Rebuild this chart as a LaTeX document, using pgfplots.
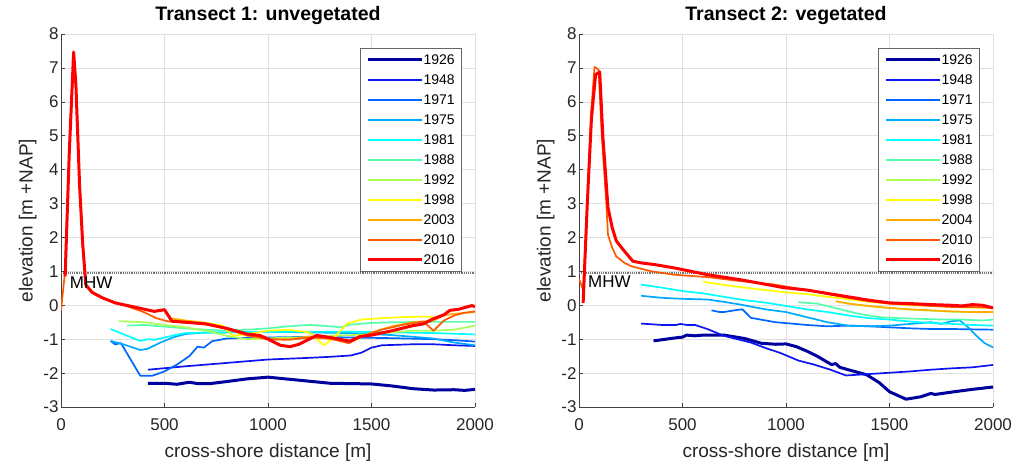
\documentclass[border=0pt]{standalone}
\usepackage{fontspec}
\setmainfont{Liberation Sans}
\usepackage{pgfplots}
\pgfplotsset{compat=1.18}

% jet-like colours, one per survey year
\definecolor{c1926}{rgb}{0,0,0.62}
\definecolor{c1948}{rgb}{0.05,0.08,0.95}
\definecolor{c1971}{rgb}{0,0.4,1}
\definecolor{c1975}{rgb}{0,0.67,1}
\definecolor{c1981}{rgb}{0,1,1}
\definecolor{c1988}{rgb}{0.33,1,0.67}
\definecolor{c1992}{rgb}{0.67,1,0.33}
\definecolor{c1998}{rgb}{1,1,0}
\definecolor{c2003}{rgb}{1,0.67,0}
\definecolor{c2010}{rgb}{1,0.35,0}
\definecolor{c2016}{rgb}{1,0,0}

\tikzset{
  lthin/.style={line width=1.7pt},
  lthick/.style={line width=3pt},
}

\pgfplotsset{
  transect/.style={
    width=414pt, height=373pt, scale only axis,
    xmin=0, xmax=2000, ymin=-3, ymax=8,
    xtick={0,500,...,2000}, ytick={-3,-2,...,8},
    grid=major, major grid style={line width=0.5pt, draw=black!12},
    axis x line*=bottom, axis y line*=left,
    axis line style={-, draw=black!75, line width=0.6pt},
    tick align=inside, major tick length=4pt, tick style={draw=black!75, line width=0.6pt},
    ticklabel style={font=\fontsize{17}{17}\selectfont, text=black!85},
    xticklabel style={yshift=-8pt},
    yticklabel style={xshift=1pt},
    /pgf/number format/assume math mode=true,
    /pgf/number format/1000 sep={},
    xlabel style={font=\fontsize{19}{19}\selectfont, text=black!85, yshift=-6pt},
    ylabel style={font=\fontsize{19}{19}\selectfont, text=black!85},
    title style={font=\bfseries\fontsize{19.5}{19.5}\selectfont, yshift=0pt},
    xlabel={cross-shore distance [m]},
    ylabel={elevation [m +NAP]},
    legend style={at={(1,1)}, anchor=north east, xshift=-14pt, yshift=-14pt,
      draw=black!60, line width=0.5pt, fill=white,
      font=\fontsize{14}{14}\selectfont, inner xsep=6pt, inner ysep=5pt,
      row sep=7pt,
      nodes={inner xsep=0pt, inner ysep=0pt, text height=11pt, text depth=2pt},
      /tikz/every even column/.append style={column sep=0pt}},
    legend cell align=left,
    legend image code/.code={\draw[#1] (0pt,0pt) -- (54pt,0pt);},
  },
  every axis plot/.append style={line join=round},
}

\begin{document}
\begin{tikzpicture}
%--------------------------------------------------- transect 1
\begin{axis}[transect, title={Transect 1: unvegetated}]
\addplot[draw=black!55, line width=1.2pt, densely dotted, forget plot] coordinates {(0,0.95) (2000,0.95)};
\addplot[c1926, lthick] coordinates {(420,-2.30) (500,-2.30) (560,-2.33) (620,-2.27) (660,-2.31) (720,-2.31) (800,-2.25) (900,-2.17) (1000,-2.12) (1100,-2.18) (1200,-2.24) (1300,-2.30) (1400,-2.31) (1500,-2.32) (1600,-2.38) (1700,-2.46) (1800,-2.50) (1900,-2.49) (1950,-2.51) (2000,-2.48)};
\addplot[c1948, lthin] coordinates {(420,-1.90) (600,-1.80) (800,-1.70) (1000,-1.60) (1200,-1.55) (1300,-1.52) (1400,-1.48) (1450,-1.40) (1500,-1.25) (1550,-1.18) (1700,-1.15) (1800,-1.15) (1900,-1.18) (2000,-1.20)};
\addplot[c1971, lthin] coordinates {(240,-1.05) (260,-1.15) (290,-1.12) (383,-2.08) (440,-2.08) (500,-1.95) (560,-1.75) (620,-1.50) (660,-1.22) (690,-1.25) (730,-1.06) (800,-0.98) (900,-0.96) (1000,-0.95) (1200,-0.93) (1400,-0.95) (1600,-0.97) (1800,-1.00) (1900,-1.03) (2000,-1.07)};
\addplot[c1975, lthin] coordinates {(240,-1.05) (300,-1.15) (383,-1.32) (420,-1.28) (480,-1.10) (540,-0.95) (600,-0.85) (700,-0.80) (800,-0.80) (1000,-0.78) (1200,-0.80) (1400,-0.82) (1600,-0.88) (1800,-0.98) (1900,-1.10) (2000,-1.18)};
\addplot[c1981, lthin] coordinates {(240,-0.70) (300,-0.85) (383,-1.05) (420,-1.00) (450,-1.02) (500,-0.95) (550,-0.88) (600,-0.82) (800,-0.80) (1000,-0.78) (1200,-0.78) (1400,-0.78) (1600,-0.80) (1800,-0.82) (2000,-0.86)};
\addplot[c1988, lthin] coordinates {(320,-0.60) (400,-0.58) (500,-0.63) (600,-0.68) (700,-0.72) (800,-0.75) (900,-0.72) (1000,-0.68) (1100,-0.62) (1200,-0.58) (1300,-0.62) (1350,-0.65) (1400,-0.57) (1500,-0.52) (1600,-0.50) (1800,-0.49) (2000,-0.49)};
\addplot[c1992, lthin] coordinates {(280,-0.47) (400,-0.50) (500,-0.58) (600,-0.65) (700,-0.75) (800,-0.90) (900,-1.00) (1000,-0.98) (1100,-0.95) (1200,-0.95) (1300,-0.90) (1400,-0.88) (1500,-0.85) (1600,-0.80) (1700,-0.75) (1800,-0.75) (1900,-0.72) (2000,-0.60)};
\addplot[c1998, lthin] coordinates {(530,-0.38) (600,-0.45) (700,-0.52) (780,-0.60) (830,-0.90) (900,-0.85) (1000,-0.75) (1100,-0.72) (1200,-0.80) (1270,-1.18) (1320,-0.95) (1380,-0.55) (1450,-0.42) (1550,-0.38) (1650,-0.35) (1750,-0.33) (1800,-0.35)};
\addplot[c2003, lthin] coordinates {(520,-0.38) (600,-0.45) (700,-0.52) (800,-0.68) (900,-0.90) (1000,-1.00) (1100,-1.00) (1200,-0.92) (1300,-1.00) (1400,-1.08) (1500,-0.80) (1600,-0.62) (1700,-0.50) (1800,-0.45) (1850,-0.30) (1900,-0.25) (2000,-0.20)};
\addplot[c2010, lthin] coordinates {(0,-0.15) (18,0.9) (40,4.5) (61,7.4) (72,6.5) (90,3.5) (105,1.8) (120,0.6) (150,0.4) (200,0.22) (262,0.07) (320,-0.03) (400,-0.2) (460,-0.38) (520,-0.48) (600,-0.50) (700,-0.55) (800,-0.70) (900,-0.88) (1000,-1.00) (1100,-1.02) (1200,-0.95) (1300,-0.98) (1390,-1.12) (1450,-0.92) (1550,-0.72) (1650,-0.58) (1750,-0.48) (1800,-0.75) (1850,-0.45) (1900,-0.30) (1950,-0.22) (2000,-0.18)};
\addplot[c2016, lthick] coordinates {(20,0.85) (40,4.5) (61,7.47) (72,6.5) (90,3.5) (105,1.8) (120,0.6) (150,0.38) (200,0.22) (262,0.07) (300,0.02) (375,-0.08) (450,-0.18) (500,-0.13) (536,-0.47) (600,-0.50) (700,-0.55) (800,-0.68) (900,-0.85) (962,-0.89) (1000,-1.00) (1060,-1.18) (1107,-1.22) (1150,-1.15) (1235,-0.89) (1300,-0.95) (1396,-1.06) (1445,-0.92) (1500,-0.88) (1600,-0.75) (1700,-0.60) (1750,-0.55) (1798,-0.40) (1850,-0.28) (1879,-0.15) (1920,-0.12) (1960,-0.05) (1985,-0.01) (2000,-0.04)};
\legend{1926,1948,1971,1975,1981,1988,1992,1998,2003,2010,2016}
\node[anchor=west, inner sep=0pt, font=\fontsize{17}{17}\selectfont] at (axis cs:42,0.68) {MHW};
\end{axis}
%--------------------------------------------------- transect 2
\begin{axis}[transect, at={(518pt,0pt)}, title={Transect 2: vegetated}]
\addplot[draw=black!55, line width=1.2pt, densely dotted, forget plot] coordinates {(0,0.95) (2000,0.95)};
\addplot[c1926, lthick] coordinates {(360,-1.05) (420,-1.00) (480,-0.95) (500,-0.94) (520,-0.88) (560,-0.90) (600,-0.88) (700,-0.88) (800,-0.98) (880,-1.12) (950,-1.15) (1000,-1.14) (1050,-1.22) (1100,-1.35) (1150,-1.50) (1220,-1.75) (1240,-1.72) (1260,-1.83) (1300,-1.90) (1390,-2.05) (1450,-2.28) (1500,-2.55) (1580,-2.77) (1650,-2.70) (1700,-2.60) (1720,-2.63) (1800,-2.56) (1900,-2.48) (2000,-2.41)};
\addplot[c1948, lthin] coordinates {(300,-0.54) (400,-0.58) (470,-0.58) (490,-0.55) (520,-0.58) (560,-0.58) (620,-0.70) (700,-0.90) (830,-1.10) (910,-1.28) (970,-1.40) (1060,-1.63) (1130,-1.74) (1210,-1.89) (1290,-2.07) (1370,-2.04) (1500,-1.99) (1600,-1.95) (1700,-1.90) (1800,-1.86) (1900,-1.83) (2000,-1.76)};
\addplot[c1971, lthin] coordinates {(640,-0.15) (680,-0.20) (700,-0.20) (760,-0.14) (790,-0.12) (830,-0.37) (950,-0.50) (1100,-0.58) (1200,-0.62) (1300,-0.60) (1400,-0.62) (1500,-0.65) (1600,-0.68) (1700,-0.70) (1800,-0.70) (1900,-0.71) (2000,-0.72)};
\addplot[c1975, lthin] coordinates {(300,0.28) (400,0.22) (500,0.19) (620,0.17) (700,0.10) (780,0.02) (900,-0.12) (1000,-0.20) (1100,-0.35) (1200,-0.50) (1300,-0.60) (1400,-0.62) (1500,-0.60) (1600,-0.55) (1700,-0.50) (1750,-0.55) (1800,-0.47) (1840,-0.45) (1880,-0.65) (1920,-0.90) (1960,-1.12) (2000,-1.24)};
\addplot[c1981, lthin] coordinates {(300,0.61) (400,0.52) (500,0.42) (600,0.35) (700,0.25) (800,0.15) (900,0.08) (1000,-0.02) (1100,-0.12) (1200,-0.20) (1300,-0.30) (1400,-0.38) (1500,-0.42) (1600,-0.48) (1700,-0.52) (1800,-0.55) (1900,-0.58) (2000,-0.60)};
\addplot[c1988, lthin] coordinates {(1060,0.09) (1150,0.05) (1250,-0.10) (1350,-0.25) (1450,-0.35) (1550,-0.38) (1650,-0.40) (1750,-0.42) (1850,-0.42) (1950,-0.45) (2000,-0.42)};
\addplot[c1992, lthin] coordinates {(1250,0.10) (1400,-0.03) (1600,-0.13) (1800,-0.19) (2000,-0.21)};
\addplot[c1998, lthin] coordinates {(600,0.69) (700,0.60) (800,0.52) (900,0.45) (1000,0.38) (1100,0.33) (1200,0.25) (1300,0.18) (1400,0.10) (1500,0.05) (1600,0.00) (1700,-0.02) (1800,-0.05) (1900,-0.07) (2000,-0.08)};
\addplot[c2003, lthin] coordinates {(1240,0.12) (1300,0.05) (1400,-0.02) (1500,-0.08) (1600,-0.12) (1700,-0.15) (1800,-0.18) (1900,-0.20) (2000,-0.20)};
\addplot[c2010, lthin] coordinates {(0,0.78) (20,0.45) (40,3.0) (60,5.8) (75,7.03) (95,6.95) (110,5.0) (132,3.0) (140,2.08) (160,1.70) (180,1.44) (220,1.25) (253,1.15) (350,1.00) (462,0.90) (622,0.83) (783,0.71) (944,0.61) (1100,0.45) (1200,0.33) (1300,0.22) (1400,0.12) (1500,0.05) (1600,0.02) (1700,-0.02) (1800,-0.05) (1900,-0.05) (2000,-0.08)};
\addplot[c2016, lthick] coordinates {(20,0.07) (40,3.0) (60,5.5) (80,6.8) (100,6.88) (115,5.0) (140,2.88) (160,2.3) (180,1.90) (212,1.65) (260,1.30) (300,1.25) (365,1.20) (462,1.10) (622,0.90) (783,0.75) (900,0.62) (989,0.52) (1100,0.45) (1200,0.35) (1300,0.25) (1400,0.15) (1500,0.07) (1600,0.05) (1700,0.02) (1800,0.00) (1850,-0.02) (1900,0.02) (1950,0.00) (2000,-0.08)};
\legend{1926,1948,1971,1975,1981,1988,1992,1998,2004,2010,2016}
\node[anchor=west, inner sep=0pt, font=\fontsize{17}{17}\selectfont] at (axis cs:43,0.69) {MHW};
\end{axis}
\pgfresetboundingbox
\path[use as bounding box] (-61pt,-59pt) rectangle (955pt,407pt);
\end{tikzpicture}
\end{document}
